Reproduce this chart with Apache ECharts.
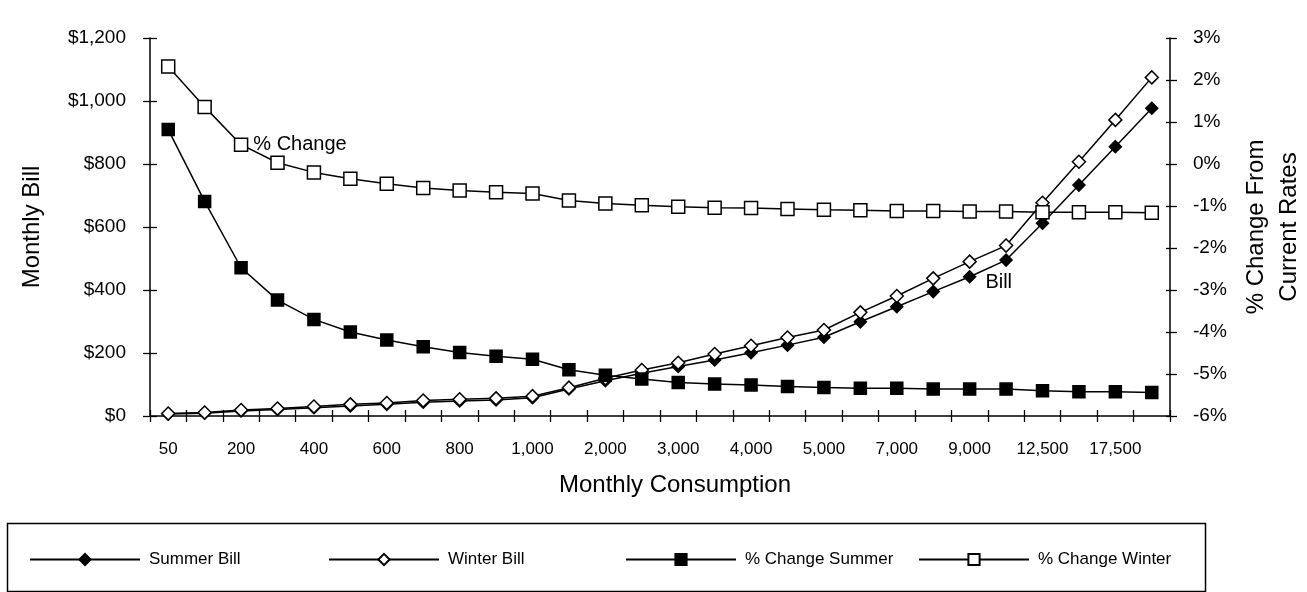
<!DOCTYPE html>
<html>
<head>
<meta charset="utf-8">
<script src="https://cdn.jsdelivr.net/npm/echarts@6/dist/echarts.min.js"></script>
<style>
  html, body { margin: 0; padding: 0; background: #fff; }
  #chart { width: 1307px; height: 592px; }
</style>
</head>
<body>
<div id="chart"></div>
<script>
// Monthly consumption steps (kWh)
const consumption = ['50', '100', '200', '300', '400', '500', '600', '700', '800', '900', '1,000',
  '1,500', '2,000', '2,500', '3,000', '3,500', '4,000', '4,500', '5,000', '6,000', '7,000',
  '8,000', '9,000', '10,000', '12,500', '15,000', '17,500', '20,000'];

// Monthly bill in dollars
const summerBill = [6, 9, 16, 21, 26, 32, 37, 44, 48, 51, 58, 86, 112, 136, 157, 178, 201, 225,
  250, 299, 347, 395, 442, 495, 612, 733, 855, 977];
const winterBill = [8, 11, 19, 24, 30, 37, 41, 49, 53, 56, 63, 90, 120, 146, 169, 197, 223, 249,
  273, 329, 381, 437, 490, 541, 677, 807, 940, 1075];

// Percent change from current rates
const pctSummer = [0.82, -0.89, -2.47, -3.24, -3.70, -4.00, -4.19, -4.35, -4.49, -4.58, -4.65,
  -4.90, -5.03, -5.12, -5.20, -5.24, -5.26, -5.30, -5.32, -5.34, -5.34, -5.36, -5.36, -5.36,
  -5.40, -5.42, -5.42, -5.44];
const pctWinter = [2.32, 1.36, 0.46, 0.03, -0.20, -0.35, -0.47, -0.57, -0.63, -0.67, -0.70,
  -0.87, -0.94, -0.98, -1.02, -1.04, -1.05, -1.07, -1.09, -1.10, -1.12, -1.12, -1.13, -1.13,
  -1.15, -1.15, -1.15, -1.16];

// Axis ranges
const billAxis = { min: 0, max: 1200, interval: 200 };
const pctAxis = { min: -6, max: 3, interval: 1 };

const FONT = "'Liberation Sans', Arial, Helvetica, sans-serif";
const INK = '#000';

const chart = echarts.init(document.getElementById('chart'), null, { renderer: 'canvas' });

// Series-name callouts attached to data points
function withCallout(values, index, text, labelOpts) {
  return values.map((v, i) => i === index
    ? { value: v, label: Object.assign({ show: true, formatter: text, color: INK,
        fontFamily: FONT, fontSize: 20 }, labelOpts) }
    : v);
}

const axisLine = { show: true, onZero: false, lineStyle: { color: INK, width: 1.5 } };
const hiddenLine = { show: false, onZero: false };
const tickStyle = { color: INK, width: 1.3 };

function lineSeries(name, data, yAxisIndex, symbol, size, filled) {
  return {
    name, type: 'line', data, yAxisIndex, xAxisIndex: 0,
    symbol, symbolSize: size, showAllSymbol: true,
    lineStyle: { color: INK, width: 1.5 },
    itemStyle: { color: filled ? INK : '#fff', borderColor: INK, borderWidth: 1.5 },
    emphasis: { disabled: true },
    animation: false
  };
}

function legendItem(name, left) {
  return {
    data: [name], left, top: 546, itemWidth: 110, itemHeight: 14,
    selectedMode: false,
    textStyle: { color: INK, fontFamily: FONT, fontSize: 17, padding: [0, 0, 0, 4] }
  };
}

chart.setOption({
  animation: false,
  backgroundColor: '#fff',
  textStyle: { fontFamily: FONT, color: INK },
  grid: { left: 150, right: 137, top: 38, bottom: 176, containLabel: false, outerBoundsMode: 'none' },
  xAxis: [
    {
      type: 'category', data: consumption, boundaryGap: true,
      axisLine,
      axisTick: { show: true, interval: 0, length: 6, lineStyle: tickStyle },
      axisLabel: { interval: 1, color: INK, fontFamily: FONT, fontSize: 17, margin: 25 },
      name: 'Monthly Consumption', nameLocation: 'middle', nameGap: 57,
      nameTextStyle: { color: INK, fontFamily: FONT, fontSize: 24, padding: [0, 0, 0, 30] }
    },
    {
      // inner half of the crossing ticks
      type: 'category', data: consumption, boundaryGap: true, position: 'bottom',
      axisLine: hiddenLine,
      axisTick: { show: true, inside: true, interval: 0, length: 6, lineStyle: tickStyle },
      axisLabel: { show: false }
    }
  ],
  yAxis: [
    {
      type: 'value', position: 'left', min: billAxis.min, max: billAxis.max, interval: billAxis.interval,
      axisLine, splitLine: { show: false },
      axisTick: { show: true, length: 7, lineStyle: tickStyle },
      axisLabel: { color: INK, fontFamily: FONT, fontSize: 19, margin: 24,
        formatter: v => '$' + v.toLocaleString('en-US') },
      name: 'Monthly Bill', nameLocation: 'middle', nameRotate: 90, nameGap: 106,
      nameTextStyle: { color: INK, fontFamily: FONT, fontSize: 24 }
    },
    {
      type: 'value', position: 'right', min: pctAxis.min, max: pctAxis.max, interval: pctAxis.interval,
      axisLine, splitLine: { show: false },
      axisTick: { show: true, length: 7, lineStyle: tickStyle },
      axisLabel: { color: INK, fontFamily: FONT, fontSize: 19, margin: 23,
        formatter: v => v + '%' },
      name: '% Change From\nCurrent Rates', nameLocation: 'middle', nameRotate: 90, nameGap: 70,
      nameTextStyle: { color: INK, fontFamily: FONT, fontSize: 24, lineHeight: 33 }
    },
    {
      type: 'value', position: 'left', min: billAxis.min, max: billAxis.max, interval: billAxis.interval,
      axisLine: hiddenLine, splitLine: { show: false },
      axisTick: { show: true, inside: true, length: 7, lineStyle: tickStyle },
      axisLabel: { show: false }
    },
    {
      type: 'value', position: 'right', min: pctAxis.min, max: pctAxis.max, interval: pctAxis.interval,
      axisLine: hiddenLine, splitLine: { show: false },
      axisTick: { show: true, inside: true, length: 4, lineStyle: tickStyle },
      axisLabel: { show: false }
    }
  ],
  legend: [
    legendItem('Summer Bill', 24),
    legendItem('Winter Bill', 323),
    legendItem('% Change Summer', 620),
    legendItem('% Change Winter', 913)
  ],
  graphic: [
    {
      type: 'rect', left: 5, top: 521, silent: true,
      shape: { width: 1198, height: 68 },
      style: { fill: 'none', stroke: INK, lineWidth: 1.5 }
    }
  ],
  series: [
    lineSeries('Summer Bill',
      withCallout(summerBill, 22, 'Bill', { position: 'right', distance: 9, offset: [0, 6] }),
      0, 'diamond', 12, true),
    lineSeries('Winter Bill', winterBill, 0, 'diamond', 13, false),
    lineSeries('% Change Summer', pctSummer, 1, 'rect', 12, true),
    lineSeries('% Change Winter',
      withCallout(pctWinter, 2, '% Change', { position: 'right', distance: 5 }),
      1, 'rect', 13, false)
  ]
});
</script>
</body>
</html>
